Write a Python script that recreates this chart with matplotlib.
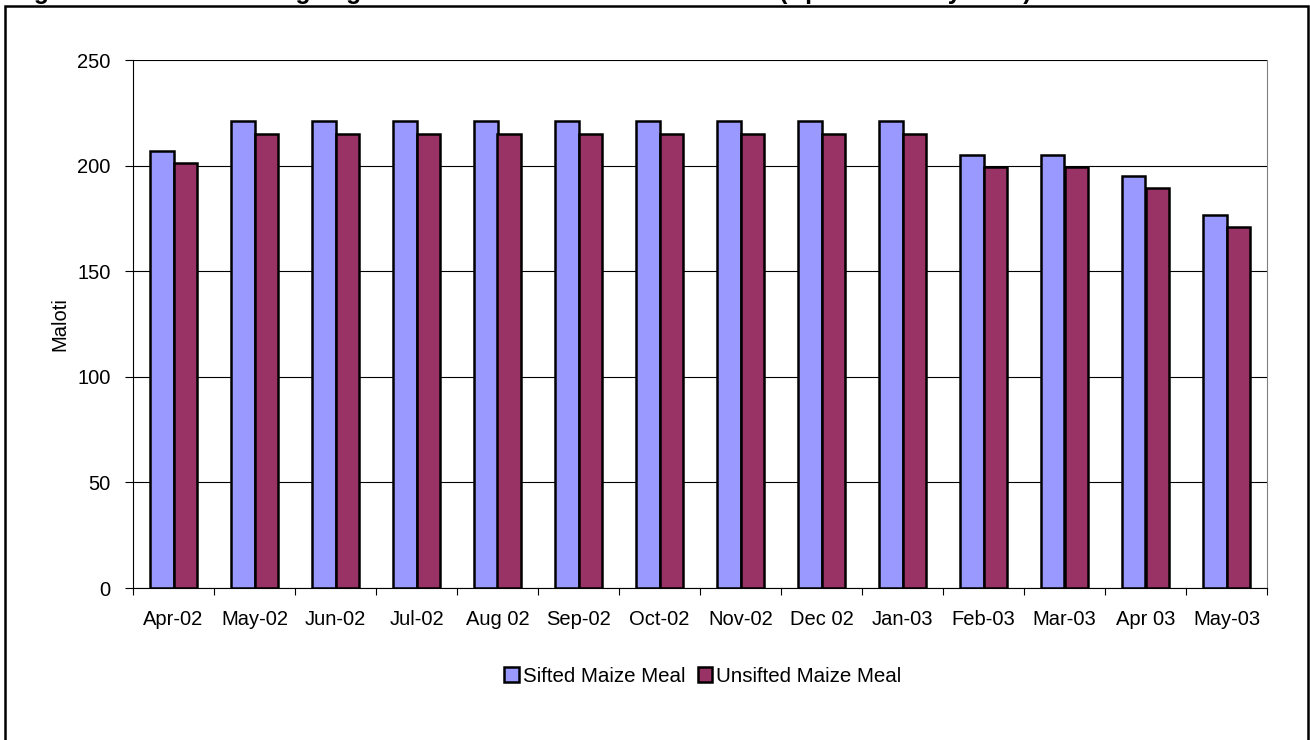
import matplotlib
matplotlib.use("Agg")
import matplotlib.pyplot as plt
from matplotlib.patches import Rectangle
import numpy as np

plt.rcParams['font.family'] = ['Liberation Sans', 'DejaVu Sans']

months = ["Apr-02", "May-02", "Jun-02", "Jul-02", "Aug 02", "Sep-02", "Oct-02",
          "Nov-02", "Dec 02", "Jan-03", "Feb-03", "Mar-03", "Apr 03", "May-03"]
sifted = [207, 221, 221, 221, 221, 221, 221, 221, 221, 221, 205, 205, 195, 176.5]
unsifted = [201, 215, 215, 215, 215, 215, 215, 215, 215, 215, 199.5, 199.5, 189.5, 171]
series_names = ["Sifted Maize Meal", "Unsifted Maize Meal"]
yticks = [0, 50, 100, 150, 200, 250]
title = "Figure 6: Prices of 12.5kg bags of Sifted and Unsifted Maize Meal (April 2002-May 2003)"

W, H = 1310, 740
fig = plt.figure(figsize=(W / 100, H / 100), dpi=100)

# frame around the chart object (open at the bottom edge of the image)
fig.add_artist(Rectangle((5 / W, -0.05), 1303 / W, 1.05 - 6 / H,
                         transform=fig.transFigure, fill=False,
                         edgecolor="black", linewidth=1.8))

# heading sits above the frame
fig.text(12 / W, 1 + 1 / H, title, fontsize=17.7, fontweight="bold",
         ha="left", va="baseline")

ax = fig.add_axes([133 / W, 1 - 588 / H, (1267 - 133) / W, (588 - 60) / H])

x = np.arange(len(months))
w = 0.296
ax.bar(x - w / 2, sifted, w, color="#9999FF", edgecolor="black",
       linewidth=1.8, label=series_names[0], zorder=3)
ax.bar(x + w / 2, unsifted, w, color="#993366", edgecolor="black",
       linewidth=1.8, label=series_names[1], zorder=3)

ax.set_xlim(-0.5, len(months) - 0.5)
ax.set_ylim(0, 250)
ax.set_yticks(yticks)
ax.set_yticklabels([str(v) for v in yticks], fontsize=14.5)
ax.yaxis.grid(True, color="black", linewidth=0.8, zorder=1)
ax.set_axisbelow(True)

# category labels centred, tick marks between categories
ax.set_xticks(np.arange(len(months) + 1) - 0.5)
ax.set_xticklabels([])
ax.set_xticks(x, minor=True)
ax.set_xticklabels(months, minor=True, fontsize=14.5)
ax.tick_params(axis="x", which="minor", length=0, pad=16)
ax.tick_params(axis="x", which="major", length=5, width=0.8, direction="out")
ax.tick_params(axis="y", length=6, width=0.8, direction="out", pad=10)

ax.spines["top"].set_visible(False)
ax.spines["right"].set_color("#808080")
ax.spines["right"].set_linewidth(0.8)
ax.spines["left"].set_linewidth(0.8)
ax.spines["bottom"].set_linewidth(0.8)

ax.set_ylabel("Maloti", fontsize=14.5, labelpad=6)

leg = fig.legend(loc="center", bbox_to_anchor=(703 / W, 1 - 676 / H),
                 ncol=2, frameon=False, fontsize=14.8,
                 handlelength=0.7, handleheight=0.7, handletextpad=0.2,
                 columnspacing=0.6)
for h in leg.legend_handles:
    h.set_linewidth(1.8)

fig.savefig("out.png", dpi=100)
